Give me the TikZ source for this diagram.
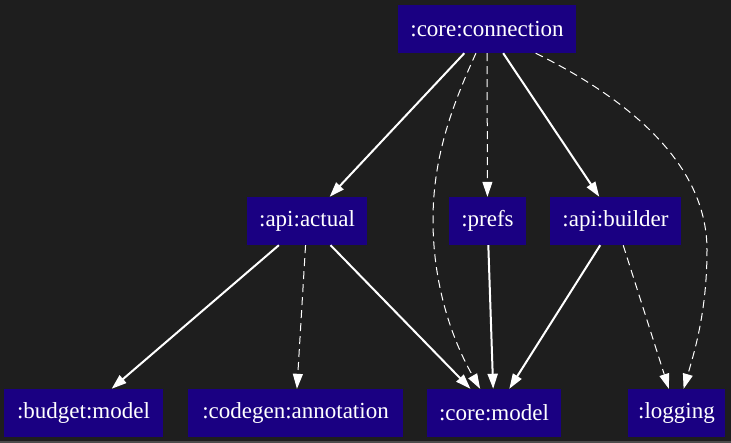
\documentclass[tikz,border=0pt]{standalone}
\usepackage{fontspec}
\setmainfont{Liberation Serif}
\usetikzlibrary{arrows.meta}

\definecolor{bgdark}{RGB}{30,30,30}
\definecolor{modblue}{RGB}{26,0,130}

\tikzset{
	module/.style={fill=modblue,text=white,inner sep=0pt,minimum height=48pt,font=\fontsize{23}{27}\selectfont},
	api/.style={draw=white,line width=2pt,-{Triangle[length=15pt,width=10pt]}},
	impl/.style={draw=white,line width=1pt,dash pattern=on 8pt off 5pt,-{Triangle[length=15pt,width=10pt]}}
}

\begin{document}
\begin{tikzpicture}[x=1pt,y=-1pt]
	\fill[bgdark] (0,0) rectangle (731,443);
	\fill[black!70!white] (0,441) rectangle (731,443);
	\useasboundingbox (0,0) rectangle (731,443);

	\node[module,minimum width=178pt] (coreconn) at (487,29) {:core:connection};

	\node[module,minimum width=120pt] (apiactual) at (307,221) {:api:actual};
	\node[module,minimum width=77pt] (prefs) at (487.5,221) {:prefs};
	\node[module,minimum width=131pt] (apibuilder) at (615.5,221) {:api:builder};

	\node[module,minimum width=159pt] (budgetmodel) at (83.5,413) {:budget:model};
	\node[module,minimum width=215pt] (codegen) at (295.5,413) {:codegen:annotation};
	\node[module,minimum width=134pt] (coremodel) at (494,413) {:core:model};
	\node[module,minimum width=97pt] (logging) at (676.5,413) {:logging};

	\draw[api] (coreconn) -- (apiactual);
	\draw[impl] (coreconn) .. controls (450,110) and (433,160) .. (433,220)
		.. controls (433,290) and (455,345) .. (coremodel);
	\draw[impl] (coreconn) -- (prefs);
	\draw[api] (coreconn) -- (apibuilder);
	\draw[impl] (coreconn) .. controls (640,105) and (707,170) .. (707,250)
		.. controls (707,310) and (695,350) .. (logging);

	\draw[api] (apiactual) -- (budgetmodel);
	\draw[impl] (apiactual) -- (codegen);
	\draw[api] (apiactual) -- (coremodel);

	\draw[api] (prefs) -- (coremodel);

	\draw[api] (apibuilder) -- (coremodel);
	\draw[impl] (apibuilder) -- (logging);
\end{tikzpicture}
\end{document}
